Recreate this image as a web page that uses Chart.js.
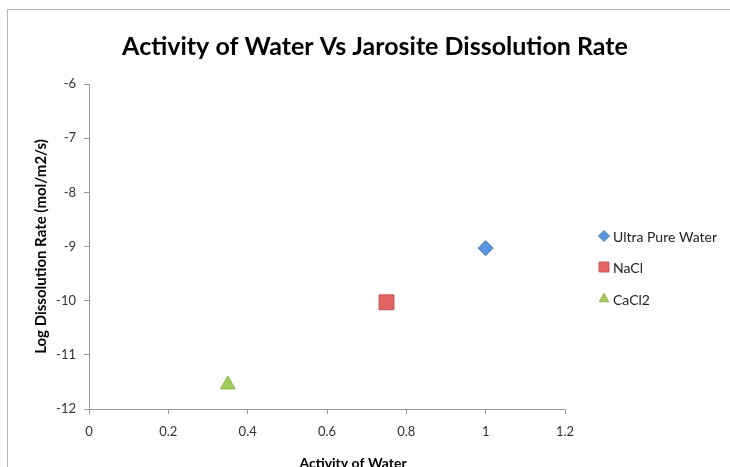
<!DOCTYPE html>
<html>
<head>
<meta charset="utf-8">
<script src="https://cdn.jsdelivr.net/npm/chart.js@4"></script>
<style>
  body { margin: 0; background: #fff; }
  #wrap { position: relative; width: 730px; height: 467px; overflow: hidden; }
  #frame { position: absolute; left: 7px; top: 9px; width: 800px; height: 500px;
           border-top: 1px solid #b5b5b5; border-left: 1px solid #b5b5b5; }
  canvas { position: absolute; left: 0; top: 0; }
</style>
</head>
<body>
<div id="wrap">
  <div id="frame"></div>
  <canvas id="chart" width="730" height="467"></canvas>
</div>
<script>
// data
const chartTitle = 'Activity of Water Vs Jarosite Dissolution Rate';
const xTitle = 'Activity of Water';
const seriesNames = ['Ultra Pure Water', 'NaCl', 'CaCl2'];
const activity = [1.0, 0.75, 0.35];
const logRate = [-9.03, -10.03, -11.55];
const xTicks = [0, 0.2, 0.4, 0.6, 0.8, 1, 1.2];
const yTicks = [-12, -11, -10, -9, -8, -7, -6];

const styles = [
  { shape: 'rectRot', fill: '#5b93dc', line: '#4a7ebb', radius: 7.5, legendRadius: 5.5 },
  { shape: 'rect', fill: '#e46464', line: '#c0504d', radius: 10.5, legendRadius: 7 },
  { shape: 'triangle', fill: '#a2cc5a', line: '#8db049', radius: 8.5, legendRadius: 5.5 }
];

const font = 'Lato, "Open Sans", sans-serif';

const datasets = seriesNames.map((name, i) => ({
  label: name,
  data: [{ x: activity[i], y: logRate[i] }],
  pointStyle: styles[i].shape,
  pointRadius: styles[i].radius,
  pointHoverRadius: styles[i].radius,
  backgroundColor: styles[i].fill,
  borderColor: styles[i].line,
  borderWidth: 1
}));

// titles and legend drawn by hand so they sit where Excel put them
const excelBits = {
  id: 'excelBits',
  afterDraw(chart) {
    const ctx = chart.ctx;
    ctx.save();
    ctx.fillStyle = '#000';
    ctx.textAlign = 'center';
    ctx.textBaseline = 'middle';
    ctx.font = 'bold 25px ' + font;
    ctx.fillText(chartTitle, 375, 47);
    ctx.font = 'bold 14px ' + font;
    ctx.fillText(xTitle, 353, 463);

    const rows = [236, 267, 299];
    seriesNames.forEach((name, i) => {
      ctx.fillStyle = styles[i].fill;
      ctx.strokeStyle = styles[i].line;
      ctx.lineWidth = 1;
      Chart.helpers.drawPoint(ctx, {
        pointStyle: styles[i].shape,
        radius: styles[i].legendRadius,
        borderWidth: 1,
        rotation: 0
      }, 604, rows[i]);
      ctx.fillStyle = '#222';
      ctx.font = '14px ' + font;
      ctx.textAlign = 'left';
      ctx.fillText(name, 613, rows[i] + 1);
    });
    ctx.restore();
  }
};

new Chart(document.getElementById('chart'), {
  type: 'scatter',
  data: { datasets: datasets },
  plugins: [excelBits],
  options: {
    responsive: false,
    animation: false,
    layout: { padding: { top: 84, left: 12, right: 165, bottom: 0 } },
    plugins: {
      legend: { display: false },
      tooltip: { enabled: false },
      title: { display: false }
    },
    scales: {
      x: {
        type: 'linear',
        min: 0,
        max: 1.2,
        afterBuildTicks: s => { s.ticks = xTicks.map(v => ({ value: v })); },
        afterFit: s => { s.height = 58; },
        grid: { drawOnChartArea: false, drawTicks: true, tickLength: 5, color: '#9a9a9a' },
        border: { color: '#9a9a9a', width: 1 },
        ticks: { color: '#333', padding: 10, font: { family: font, size: 13 }, callback: v => String(v) }
      },
      y: {
        type: 'linear',
        min: -12,
        max: -6,
        afterBuildTicks: s => { s.ticks = yTicks.map(v => ({ value: v })); },
        afterFit: s => { s.width = 77; },
        grid: { drawOnChartArea: false, drawTicks: true, tickLength: 5, color: '#9a9a9a' },
        border: { color: '#9a9a9a', width: 1 },
        ticks: { color: '#333', padding: 8, font: { family: font, size: 13 } },
        title: {
          display: true,
          text: 'Log Dissolution Rate (mol/m2/s)',
          color: '#000',
          font: { family: font, size: 15, weight: 'bold' },
          padding: { top: 20, bottom: 0 }
        }
      }
    }
  }
});
</script>
</body>
</html>
